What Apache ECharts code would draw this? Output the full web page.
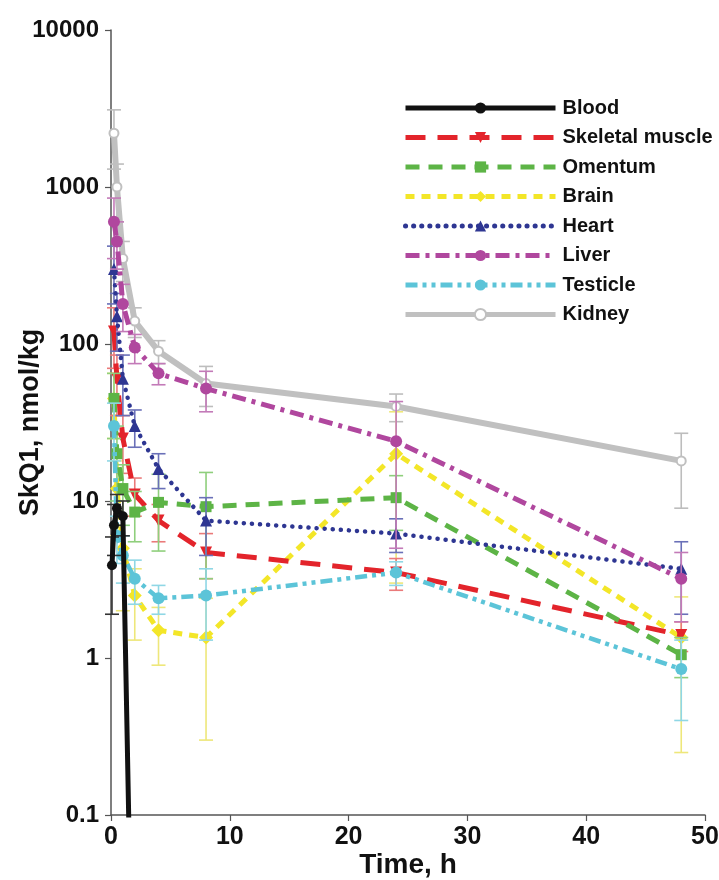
<!DOCTYPE html>
<html>
<head>
<meta charset="utf-8">
<script src="https://cdn.jsdelivr.net/npm/echarts@6/dist/echarts.min.js"></script>
<style>
html,body{margin:0;padding:0;background:#fff;}
#chart{width:719px;height:880px;}
</style>
</head>
<body>
<div id="chart"></div>
<script>
// ---- data ----
const times = [0.083, 0.25, 0.5, 1, 2, 4, 8, 24, 48];
const xTicks = [0, 10, 20, 30, 40, 50];
const yTicks = [0.1, 1, 10, 100, 1000, 10000];

const blood          = [3.9, 7, 9, 8, 0.001, null, null, null, null]; // falls below detection after 1 h
const skeletalMuscle = [null, 120, 60, 25, 11, 7.5, 4.7, 3.5, 1.4];
const omentum        = [null, 45, 20, 12, 8.5, 9.8, 9.2, 10.5, 1.05];
const brain          = [null, 45, 12, 5, 2.5, 1.5, 1.35, 20, 1.35];
const heart          = [null, 300, 150, 60, 30, 16, 7.5, 6.2, 3.7];
const liver          = [null, 600, 450, 180, 95, 65, 52, 24, 3.2];
const testicle       = [null, 30, 6, 4.5, 3.2, 2.4, 2.5, 3.5, 0.85];
const kidney         = [null, 2200, 1000, 350, 140, 90, 56, 40, 18];

const bloodErr          = [2, 2.5, 2, 2, null, null, null, null, null];
const skeletalMuscleErr = [null, 50, 25, 10, 3, 2, 1.5, 0.8, 0.3];
const omentumErr        = [null, 20, 10, 5, 3, 5, 6, 4, 0.3];
const brainErr          = [null, 20, 6, 3, 1.2, 0.6, 1.05, 17, 1.1];
const heartErr          = [null, 120, 60, 25, 8, 4, 3, 1.5, 1.8];
const liverErr          = [null, 250, 150, 60, 20, 10, 15, 19, 1.5];
const testicleErr       = [null, 12, 2, 1.5, 1, 0.5, 1.2, 0.6, 0.45];
const kidneyErr         = [null, 900, 400, 100, 30, 15, 16, 8, 9];

const names = ['Blood','Skeletal muscle','Omentum','Brain','Heart','Liver','Testicle','Kidney'];
const values = [blood, skeletalMuscle, omentum, brain, heart, liver, testicle, kidney];
const errs = [bloodErr, skeletalMuscleErr, omentumErr, brainErr, heartErr, liverErr, testicleErr, kidneyErr];

// ---- styles ----
const styles = [
  {color:'#111111', err:'#333333', width:5, dash:'solid', symbol:'circle', size:10, rot:0, z:9},
  {color:'#e3242b', err:'#ea7a7a', width:5, dash:[20,12], symbol:'triangle', size:12, rot:180, z:4},
  {color:'#5db446', err:'#8fcf7c', width:5, dash:[14,9], symbol:'rect', size:11, rot:0, z:5},
  {color:'#f3e628', err:'#eee77a', width:5, dash:[9,7], symbol:'diamond', size:14, rot:0, z:3},
  {color:'#2e3692', err:'#6a70b8', width:4.5, dash:[0.1,8], symbol:'triangle', size:12, rot:0, z:6, cap:'round'},
  {color:'#b0479e', err:'#c37ab8', width:5, dash:[14,6,4,6], symbol:'circle', size:12, rot:0, z:7},
  {color:'#5cc4d8', err:'#8fd7e5', width:4.5, dash:[12,5,4,5,4,5], symbol:'circle', size:12, rot:0, z:8},
  {color:'#c0c0c0', err:'#bdbdbd', width:6, dash:'solid', symbol:'emptyCircle', size:9, rot:0, z:2}
];

const series = [];
names.forEach((name, i) => {
  const st = styles[i];
  const vals = values[i];
  series.push({
    name: name,
    type: 'line',
    data: times.map((t, k) => [t, vals[k]]),
    connectNulls: false,
    symbol: st.symbol,
    symbolSize: st.size,
    symbolRotate: st.rot,
    showAllSymbol: true,
    z: st.z,
    lineStyle: {color: st.color, width: st.width, type: st.dash, cap: st.cap || 'butt'},
    itemStyle: {color: st.color, borderColor: st.color, borderWidth: st.symbol === 'emptyCircle' ? 2.5 : 0},
    clip: true
  });
  const e = errs[i];
  const errData = [];
  times.forEach((t, k) => {
    if (vals[k] != null && e[k] != null) {
      errData.push([t, vals[k] - e[k], vals[k] + e[k]]);
    }
  });
  series.push({
    name: name + ' err',
    type: 'custom',
    z: st.z - 0.5,
    silent: true,
    data: errData,
    encode: {x: 0, y: [1, 2]},
    renderItem: function (params, api) {
      const cs = params.coordSys;
      const top = cs.y, bot = cs.y + cs.height;
      const x = api.value(0);
      let lo = api.value(1), hi = api.value(2);
      if (lo <= 0) lo = 1e-4;
      const pHi = api.coord([x, hi]);
      const pLo = api.coord([x, lo]);
      const yHi = Math.max(top, Math.min(bot, pHi[1]));
      const yLo = Math.max(top, Math.min(bot, pLo[1]));
      const cx = pHi[0];
      const w = 7;
      const style = {stroke: st.err, lineWidth: 1.6};
      const children = [{type:'line', shape:{x1:cx, y1:yHi, x2:cx, y2:yLo}, style: style}];
      if (pHi[1] >= top && pHi[1] <= bot) children.push({type:'line', shape:{x1:cx-w, y1:yHi, x2:cx+w, y2:yHi}, style: style});
      if (pLo[1] >= top && pLo[1] <= bot) children.push({type:'line', shape:{x1:cx-w, y1:yLo, x2:cx+w, y2:yLo}, style: style});
      return {type:'group', children: children};
    }
  });
});

const chart = echarts.init(document.getElementById('chart'), null, {renderer:'canvas'});
const font = 'Liberation Sans, Arial, sans-serif';
chart.setOption({
  animation: false,
  backgroundColor: '#ffffff',
  grid: {left: 111, right: 14, top: 30, bottom: 65, containLabel: false, outerBoundsMode: 'none'},
  legend: {
    data: names,
    orient: 'vertical',
    left: 398,
    top: 93,
    itemWidth: 150,
    itemHeight: 14,
    itemGap: 9.5,
    selectedMode: false,
    lineStyle: {width: 5},
    textStyle: {fontFamily: font, fontWeight: 'bold', fontSize: 20, color: '#111', padding: [0,0,0,2]}
  },
  xAxis: {
    type: 'value',
    min: xTicks[0],
    max: xTicks[xTicks.length - 1],
    interval: 10,
    name: 'Time, h',
    nameLocation: 'middle',
    nameGap: 36,
    nameMoveOverlap: false,
    nameTextStyle: {fontFamily: font, fontWeight: 'bold', fontSize: 28, color: '#111'},
    axisLine: {lineStyle: {color: '#555', width: 1.5}},
    axisTick: {show: true, length: 6, lineStyle: {color: '#555', width: 1.2}},
    axisLabel: {fontFamily: font, fontWeight: 'bold', fontSize: 25, color: '#111', margin: 10},
    splitLine: {show: false}
  },
  yAxis: {
    type: 'log',
    logBase: 10,
    min: yTicks[0],
    max: yTicks[yTicks.length - 1],
    name: 'SkQ1, nmol/kg',
    nameLocation: 'middle',
    nameGap: 67,
    nameMoveOverlap: false,
    nameRotate: 90,
    nameTextStyle: {fontFamily: font, fontWeight: 'bold', fontSize: 27, color: '#111'},
    axisLine: {show: true, lineStyle: {color: '#555', width: 1.5}},
    axisTick: {show: true, length: 6, lineStyle: {color: '#555', width: 1.2}},
    axisLabel: {
      fontFamily: font, fontWeight: 'bold', fontSize: 24, color: '#111', margin: 12,
      formatter: function (v) { return String(Number(v.toPrecision(6))); }
    },
    splitLine: {show: false}
  },
  series: series
});
</script>
</body>
</html>
